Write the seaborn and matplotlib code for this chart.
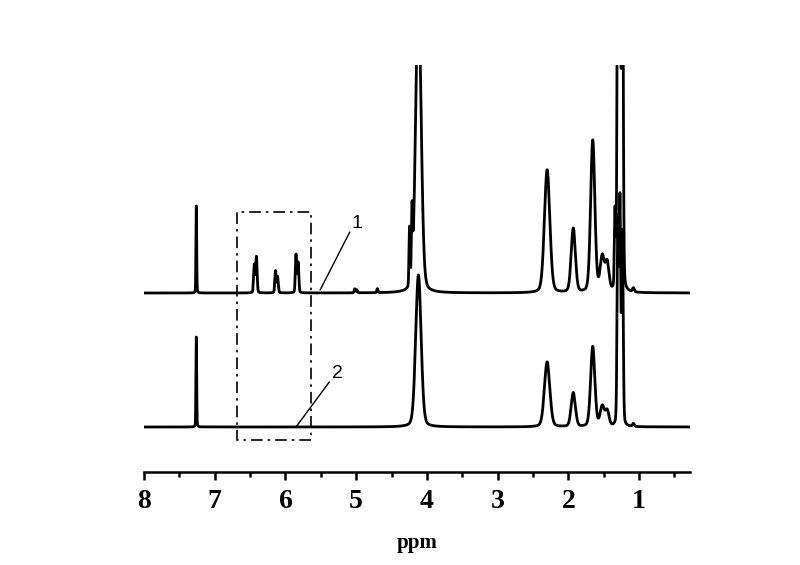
import numpy as np
import pandas as pd
import seaborn as sns
import matplotlib
matplotlib.use("Agg")
import matplotlib.pyplot as plt
from matplotlib.patches import Rectangle
from matplotlib.ticker import MultipleLocator, FixedLocator

# ---- peak lists (ppm, height, FWHM in ppm) ----
t1_ppm = [7.26, 6.44, 6.41, 6.14, 6.11, 5.85, 5.82, 5.02, 4.99, 4.70,
          4.245, 4.21, 4.12, 2.30, 1.93, 1.655, 1.52, 1.45, 1.34, 1.30, 1.27, 1.235, 1.08]
t1_height = [87, 28, 36, 22, 16, 38, 30, 4, 3, 4,
             58, 64, 300, 123, 64, 152, 35, 28, 75, 400, 400, 400, 4]
t1_fwhm = [0.012, 0.022, 0.022, 0.022, 0.022, 0.022, 0.022, 0.02, 0.02, 0.02,
           0.018, 0.018, 0.09, 0.09, 0.07, 0.07, 0.07, 0.06, 0.02, 0.025, 0.025, 0.025, 0.03]

t2_ppm = [7.26, 4.12, 2.30, 1.93, 1.655, 1.52, 1.45, 1.30, 1.27, 1.235, 1.08]
t2_height = [90, 152, 65, 34, 80, 20, 15, 200, 220, 190, 3]
t2_fwhm = [0.012, 0.09, 0.09, 0.07, 0.07, 0.07, 0.06, 0.025, 0.025, 0.025, 0.03]

trace_offset = 134          # vertical offset of spectrum 1 above spectrum 2
major_ticks = [8, 7, 6, 5, 4, 3, 2, 1]
tick_labels = ["8", "7", "6", "5", "4", "3", "2", "1"]
x_left, x_right = 8.0, 0.28


def spectrum(x, ppm, height, fwhm, eta=0.2):
    y = np.zeros_like(x)
    for p, h, f in zip(ppm, height, fwhm):
        sig = f / 2.3548
        g = np.exp(-0.5 * ((x - p) / sig) ** 2)
        l = 1.0 / (1.0 + ((x - p) / (f / 2)) ** 2)
        y += h * ((1 - eta) * g + eta * l)
    return y


x = np.linspace(x_right, x_left, 30000)
df1 = pd.DataFrame({"ppm": x, "I": spectrum(x, t1_ppm, t1_height, t1_fwhm) + trace_offset})
df2 = pd.DataFrame({"ppm": x, "I": spectrum(x, t2_ppm, t2_height, t2_fwhm)})

sns.set_style("white")
plt.rcParams["font.family"] = ["Liberation Serif", "DejaVu Serif"]
plt.rcParams["text.color"] = "black"
plt.rcParams["axes.labelcolor"] = "black"
plt.rcParams["xtick.color"] = "black"

fig = plt.figure(figsize=(8, 5.65), dpi=100)
ax = fig.add_axes([144 / 800, (565 - 472) / 565, (690 - 144) / 800, (472 - 65) / 565])

sns.lineplot(data=df2, x="ppm", y="I", color="black", lw=2.0, ax=ax,
             estimator=None, sort=False)
sns.lineplot(data=df1, x="ppm", y="I", color="black", lw=2.0, ax=ax,
             estimator=None, sort=False)

ax.set_xlim(x_left, x_right)
ax.set_ylim(-45, 362)

for s in ["left", "right", "top"]:
    ax.spines[s].set_visible(False)
ax.spines["bottom"].set_linewidth(1.8)
ax.spines["bottom"].set_color("black")
ax.set_yticks([])
ax.set_ylabel("")
ax.xaxis.set_major_locator(FixedLocator(major_ticks))
ax.set_xticklabels(tick_labels)
ax.xaxis.set_minor_locator(MultipleLocator(0.5))
ax.tick_params(axis="x", which="major", direction="out", length=6, width=1.8,
               bottom=True, pad=6, labelsize=20, colors="black")
ax.tick_params(axis="x", which="minor", direction="out", length=3.5, width=1.8,
               bottom=True)
for t in ax.get_xticklabels():
    t.set_fontweight("bold")
    t.set_color("black")
ax.set_xlabel("ppm", fontsize=15, fontweight="bold", labelpad=14, color="black")

# dash-dot box around vinyl region
box_left, box_right = 6.685, 5.64
rect = Rectangle((box_right, -13), box_left - box_right, 228, fill=False,
                 edgecolor="black", lw=1.2, linestyle=(0, (7, 3, 1.5, 3)))
ax.add_patch(rect)

# labels with leader lines
ax.plot([5.51, 5.09], [137, 195], color="black", lw=1.0)
ax.text(4.99, 204, "1", fontsize=14, family=["Liberation Sans", "DejaVu Sans"],
        ha="center", va="center", color="black")
ax.plot([5.84, 5.38], [1, 45], color="black", lw=1.0)
ax.text(5.26, 54, "2", fontsize=14, family=["Liberation Sans", "DejaVu Sans"],
        ha="center", va="center", color="black")

fig.savefig("out.png", dpi=100)
